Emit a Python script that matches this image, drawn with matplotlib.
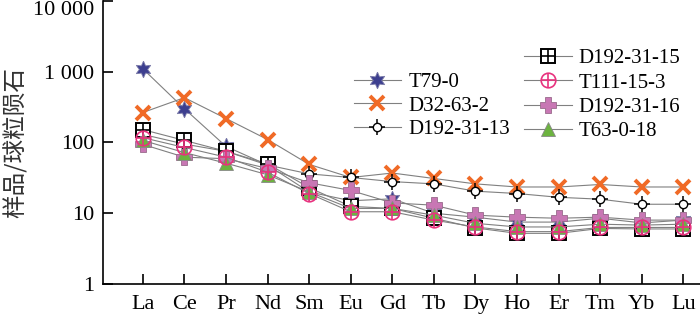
import matplotlib
matplotlib.use('Agg')
import matplotlib.pyplot as plt

plt.rcParams['font.family'] = ['Liberation Serif', 'Noto Sans CJK SC']

elements = ['La', 'Ce', 'Pr', 'Nd', 'Sm', 'Eu', 'Gd', 'Tb', 'Dy', 'Ho', 'Er', 'Tm', 'Yb', 'Lu']

t79_0 = [1100, 300, 88, 48, 20, 15, 16, 10, 8.8, 7.5, 7.5, 8.5, 7.3, 8]
d32_63_2 = [265, 430, 218, 110, 49, 32, 37, 31, 26, 23.5, 23.5, 25.5, 23.5, 23.5]
d192_31_13 = [130, 95, 75, 48, 36, 32, 28, 26, 20.5, 19, 16.8, 15.8, 13.4, 13.4]
d192_31_15 = [152, 107, 75, 50, 23, 12.5, 11.7, 8.5, 6.2, 5.2, 5.2, 6.1, 6, 6]
t111_15_3 = [117, 85, 62, 38, 19, 10.5, 10.5, 8, 6.4, 5.5, 5.5, 6.3, 6.3, 6.3]
d192_31_16 = [94, 62, 59, 43, 27, 21, 14, 13, 9.4, 8.8, 8.5, 8.8, 8, 8]
t63_0_18 = [107, 72, 51, 35, 20, 11.7, 11.7, 9.4, 7.2, 6.4, 6.4, 7, 6.8, 7]

fig = plt.figure(figsize=(7, 3.14), dpi=100)
ax = fig.add_axes([0.147, 0.0955, 0.853, 0.9015])
x = range(len(elements))
lc = '#808080'
lw = 0.8

h_t79, = ax.plot(x, t79_0, color=lc, lw=lw, marker=(6, 1, 0), ms=12,
                 mfc='#3d3f8f', mec='#7a7aa8', mew=0.6, zorder=3)
h_d32, = ax.plot(x, d32_63_2, color=lc, lw=lw, marker='x', ms=10,
                 mec='#f06a26', mew=2.8, zorder=3)
c13a, = ax.plot(x, d192_31_13, color=lc, lw=lw, marker='+', ms=11,
                mec='black', mew=1.1, zorder=3)
c13b, = ax.plot(x, d192_31_13, linestyle='none', marker='o', ms=6,
                mfc='white', mec='black', mew=1, zorder=3)
s15a, = ax.plot(x, d192_31_15, color=lc, lw=lw, marker='s', ms=10.5,
                mfc='white', mec='black', mew=1.4, zorder=3)
s15b, = ax.plot(x, d192_31_15, linestyle='none', marker='+', ms=10.5,
                mec='black', mew=1.2, zorder=3)
c3a, = ax.plot(x, t111_15_3, color=lc, lw=lw, marker='o', ms=10.5,
               mfc='none', mec='#e8327e', mew=1.2, zorder=4)
c3b, = ax.plot(x, t111_15_3, linestyle='none', marker='+', ms=10.5,
               mec='#e8327e', mew=1.2, zorder=4)
h_d16, = ax.plot(x, d192_31_16, color=lc, lw=lw, marker='P', ms=12,
                 mfc='#c877b4', mec='#9a6a8c', mew=0.6, zorder=3)
h_t63, = ax.plot(x, t63_0_18, color=lc, lw=lw, marker='^', ms=10.5,
                 mfc='#6cb33f', mec='#888888', mew=0.6, zorder=3)

ax.set_yscale('log')
ax.set_ylim(1, 10000)
ax.set_xlim(-0.96, 13.4)
ax.set_yticks([1, 10, 100, 1000, 10000])
ax.set_yticklabels(['1', '10', '100', '1 000', '10 000'])
ax.get_yticklabels()[-1].set_va('top')
ax.minorticks_off()
ax.set_xticks(list(x))
ax.set_xticklabels(elements)
ax.tick_params(direction='in', length=7, width=1.2, labelsize=16, pad=6)
ax.tick_params(axis='x', pad=8)
for s in ['top', 'right']:
    ax.spines[s].set_visible(False)
for s in ['left', 'bottom']:
    ax.spines[s].set_linewidth(1.2)
ax.set_ylabel('样品/球粒陨石', family=['Noto Sans CJK SC'], fontsize=17,
              color='#333333', labelpad=4)

leg1 = fig.legend([h_t79, h_d32, (c13a, c13b)], ['T79-0', 'D32-63-2', 'D192-31-13'],
                  loc='upper left', bbox_to_anchor=(0.505, 0.77), frameon=False,
                  fontsize=15, handlelength=2.3, handletextpad=0.35,
                  labelspacing=0.2, borderaxespad=0, borderpad=0)
leg2 = fig.legend([(s15a, s15b), (c3a, c3b), h_d16, h_t63],
                  ['D192-31-15', 'T111-15-3', 'D192-31-16', 'T63-0-18'],
                  loc='upper left', bbox_to_anchor=(0.748, 0.845), frameon=False,
                  fontsize=15, handlelength=2.3, handletextpad=0.35,
                  labelspacing=0.23, borderaxespad=0, borderpad=0)

fig.savefig('out.png', dpi=100)
